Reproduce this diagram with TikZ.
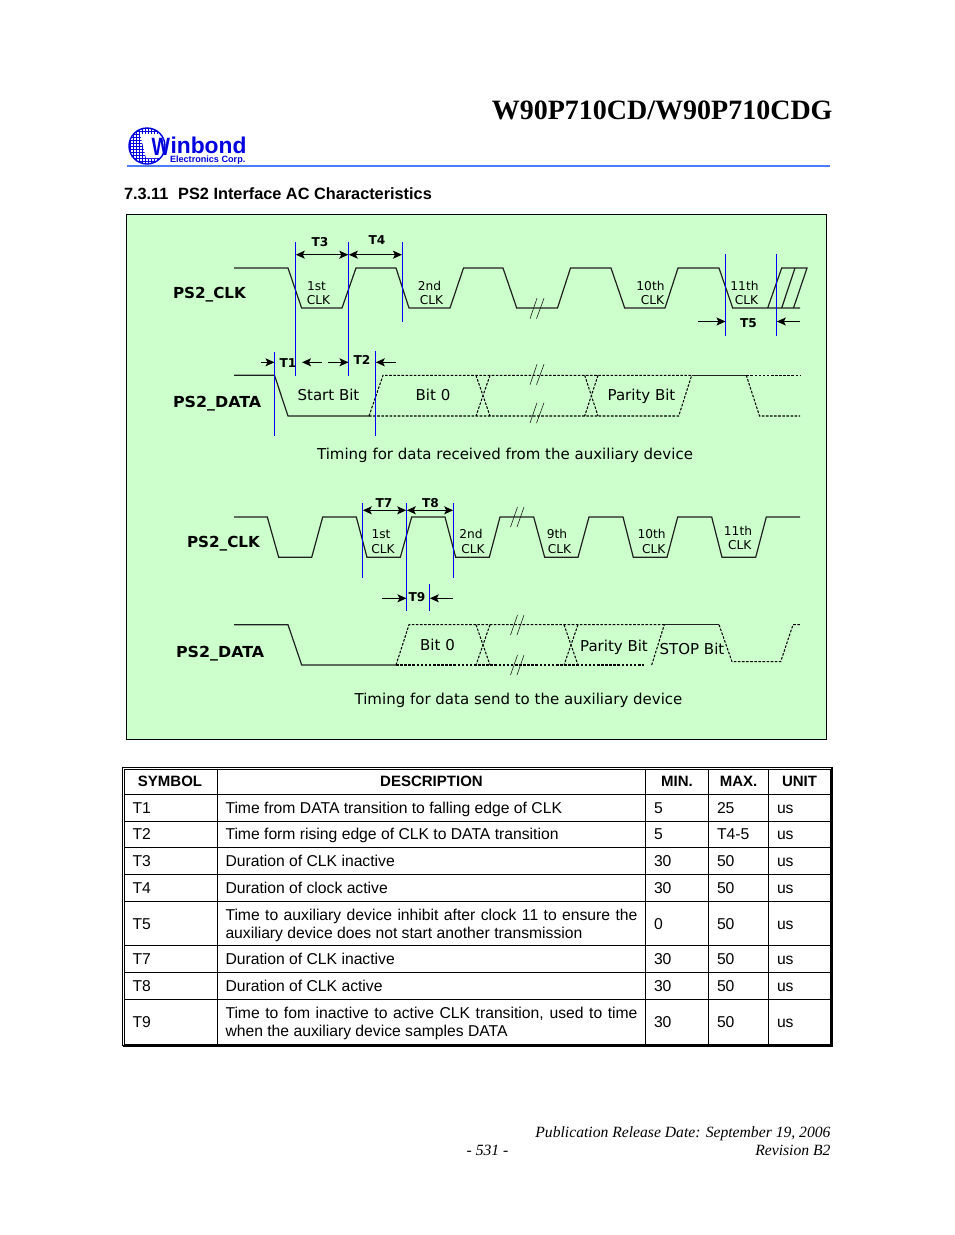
\documentclass[tikz,border=0pt]{standalone}
\usepackage{fontspec}
\setmainfont{Liberation Sans}
\newfontfamily\verd{DejaVu Sans}
\newfontfamily\tms{Liberation Serif}
\usetikzlibrary{arrows.meta}
\definecolor{panel}{HTML}{CCFFCC}
\definecolor{rulebl}{HTML}{4D7CFF}
\definecolor{wbblue}{HTML}{0000E0}
\definecolor{sig}{HTML}{202020}
\tikzset{
 every node/.style={inner sep=0pt,outer sep=0pt},
 solidsig/.style={draw=sig,line width=1.2pt,line join=miter},
 dashsig/.style={draw=black,line width=1.05pt,dash pattern=on 2.6pt off 1.5pt},
 breakmark/.style={draw=sig,line width=0.6pt},
 bluemark/.style={draw=blue,line width=1.2pt},
 dim/.style={draw=black,line width=1pt,-{Stealth[length=9pt,width=8pt,inset=2pt]}},
 dimboth/.style={draw=black,line width=1pt,{Stealth[length=9pt,width=8pt,inset=2pt]}-{Stealth[length=9pt,width=8pt,inset=2pt]}},
 signame/.style={font=\verd\bfseries\fontsize{15.2}{18}\selectfont,text=black},
 timelabel/.style={font=\verd\bfseries\fontsize{12.2}{14}\selectfont,text=black},
 small/.style={font=\verd\fontsize{12.2}{14}\selectfont,text=black},
 bitname/.style={font=\verd\fontsize{15}{18}\selectfont,text=black},
 caption/.style={font=\verd\fontsize{15}{18}\selectfont,text=black},
 cell/.style={font=\fontsize{15.7}{18}\selectfont,text=black,anchor=base west},
 head/.style={font=\bfseries\fontsize{15}{18}\selectfont,text=black},
 wrapcell/.style={font=\fontsize{15.7}{18}\selectfont,text=black,anchor=west,text width=412pt,align=justify},
 foot/.style={font=\tms\itshape\fontsize{15.65}{18}\selectfont,text=black},
 tline/.style={draw=black,line width=1pt},
}
\begin{document}
\begin{tikzpicture}[x=1pt,y=-1pt]
\useasboundingbox (0,0) rectangle (954,1235);
\fill[white] (0,0) rectangle (954,1235);
% header
\node[anchor=east,font=\tms\bfseries\fontsize{28}{32}\selectfont] (title) at (832.5,110) {W90P710CD/W90P710CDG};
\draw[rulebl,line width=1.6pt] (127,165.7) -- (830,165.7);
\begin{scope}
\clip (147,146) circle (18);
\foreach \v in {130,133,...,166} {\draw[wbblue,line width=0.8pt] (\v,126) -- (\v,166);}
\foreach \v in {128,131,...,166} {\draw[wbblue,line width=0.8pt] (127,\v) -- (167,\v);}
\fill[white] (140,134) -- (168,134) -- (168,158) -- (146,158) -- cycle;
\end{scope}
\draw[wbblue,line width=1.4pt] (147,146) circle (18);
\node[anchor=base west,font=\bfseries\fontsize{25}{26}\selectfont,text=wbblue,xscale=0.78] (logoW) at (151.5,155) {W};
\node[anchor=base west,font=\bfseries\fontsize{22.8}{26}\selectfont,text=wbblue] (logoName) at (170.5,153.5) {inbond};
\node[anchor=base west,font=\bfseries\fontsize{9.1}{10}\selectfont,text=wbblue] (logoCorp) at (170,162.5) {Electronics Corp.};
\node[anchor=base west,font=\bfseries\fontsize{16.3}{18}\selectfont] (section) at (124,199.5) {7.3.11\hspace{0.6em}PS2 Interface AC Characteristics};
% panel
\draw[fill=panel,draw=black,line width=1pt] (126.5,214.5) rectangle (826.5,739.5);
% upper timing
\draw[solidsig] (234,268) -- (288,268) -- (301.6,308) -- (342,308) -- (356,268) -- (396,268) -- (409,308) -- (450,308) -- (463.5,268) -- (503,268) -- (516.7,308) -- (557.5,308) -- (570.5,268) -- (611,268) -- (624.7,308) -- (665,308) -- (678,268) -- (719,268) -- (732.7,308) -- (800,308);
\draw[solidsig] (767.7,308) -- (781.7,268) -- (807,268) -- (793.5,308);
\draw[solidsig] (781.7,308) -- (795,268);
\foreach \d in {298.3,364.3,402.7} {
  \draw[breakmark] (530,\d+20.4) -- (537,\d);
  \draw[breakmark] (536.5,\d+20.4) -- (544,\d);
}
\draw[solidsig] (234,375.3) -- (274.5,375.3) -- (288,416) -- (369,416);
\draw[dashsig] (369,416) -- (383,375.3) -- (691.7,375.3);
\draw[dashsig] (369,416) -- (678.7,416) -- (691.7,375.3);
\draw[dashsig] (476,375.3) -- (490,416) (490,375.3) -- (476,416);
\draw[dashsig] (584.7,375.3) -- (598,416) (598,375.3) -- (584.7,416);
\draw[solidsig] (691.7,375.3) -- (746.3,375.3);
\draw[dashsig] (746.3,375.3) -- (800,375.3);
\draw[dashsig] (746.3,375.3) -- (759.5,416) -- (800,416);
\draw[bluemark] (295.5,242) -- (295.5,376);
\draw[bluemark] (348.5,242) -- (348.5,376);
\draw[bluemark] (402.3,242) -- (402.3,322);
\draw[bluemark] (274.5,352) -- (274.5,436);
\draw[bluemark] (375.5,350.5) -- (375.5,436);
\draw[bluemark] (725.5,254) -- (725.5,335.5);
\draw[bluemark] (776.5,254) -- (776.5,335.5);
\draw[dimboth] (295.8,254.7) -- (348.3,254.7);
\draw[dimboth] (348.8,254.7) -- (402,254.7);
\draw[dim] (261,362.3) -- (274.5,362.3);
\draw[dim] (322,362.3) -- (302,362.3);
\draw[dim] (328,362.3) -- (348.5,362.3);
\draw[dim] (396,362.3) -- (375.8,362.3);
\draw[dim] (698,321.5) -- (725.5,321.5);
\draw[dim] (800,321.5) -- (776.8,321.5);
\node[timelabel] (lT3) at (320,242) {T3};
\node[timelabel] (lT4) at (377,240) {T4};
\node[timelabel] (lT1) at (288,363) {T1};
\node[timelabel] (lT2) at (362,360) {T2};
\node[timelabel] (lT5) at (748.5,323) {T5};
\node[signame,anchor=west] (clkA) at (173,295) {PS2\_CLK};
\node[signame,anchor=west,xscale=1.045] (datA) at (173,404) {PS2\_DATA};
\foreach \n/\x/\t in {a1/316.5/1st,a2/429.5/2nd,a3/650.5/10th,a4/744.5/11th} {\node[small] (\n) at (\x,286) {\t};}
\foreach \n/\x in {c1/318.5,c2/431.5,c3/652.5,c4/746.5} {\node[small] (\n) at (\x,300) {CLK};}
\node[bitname] (bStart) at (328.5,395) {Start Bit};
\node[bitname] (bZeroA) at (433,395) {Bit 0};
\node[bitname] (bParA) at (641.5,396) {Parity Bit};
\node[caption] (capA) at (505,455) {Timing for data received from the auxiliary device};
% lower timing
\draw[solidsig] (234,517) -- (267.3,517) -- (278.7,557.3) -- (311.7,557.3) -- (322.7,517) -- (356.3,517) -- (367,557.3) -- (400.3,557.3) -- (411.7,517) -- (445,517) -- (455.7,557.3) -- (489.3,557.3) -- (500,517) -- (533.7,517) -- (544.7,557.3) -- (578,557.3) -- (589,517) -- (623,517) -- (633.3,557.3) -- (667,557.3) -- (677.7,517) -- (711.7,517) -- (722,557.3) -- (755.7,557.3) -- (766.3,517) -- (800,517);
\foreach \d in {507,615,655} {
  \draw[breakmark] (510.5,\d+20) -- (517.5,\d);
  \draw[breakmark] (517,\d+20) -- (524,\d);
}
\draw[solidsig] (234,624.7) -- (288,624.7) -- (301.7,665) -- (396,665);
\draw[dashsig] (396,665) -- (409,624.7) -- (664.3,624.7);
\draw[dashsig] (396,665) -- (644,665);
\draw[dashsig] (476,624.7) -- (490,665) (490,624.7) -- (476,665);
\draw[dashsig] (564,624.7) -- (578,665) (578,624.7) -- (564,665);
\draw[dashsig] (651.7,665) -- (664.3,624.7);
\draw[solidsig] (664.3,624.7) -- (719,624.7);
\draw[dashsig] (719,624.7) -- (732,661.7) -- (780.7,661.7) -- (793,624.7) -- (800,624.7);
\draw[bluemark] (362.5,503.3) -- (362.5,577.7);
\draw[bluemark] (406.5,503.3) -- (406.5,611);
\draw[bluemark] (453.5,503.3) -- (453.5,577.7);
\draw[bluemark] (429.5,584.3) -- (429.5,611);
\draw[dimboth] (362.8,510.3) -- (406.2,510.3);
\draw[dimboth] (406.8,510.3) -- (453.2,510.3);
\draw[dim] (382,598.3) -- (406.5,598.3);
\draw[dim] (453,598.3) -- (429.8,598.3);
\node[timelabel] (lT7) at (384,503) {T7};
\node[timelabel] (lT8) at (430.5,503) {T8};
\node[timelabel] (lT9) at (417,597) {T9};
\node[signame,anchor=west] (clkB) at (187,544) {PS2\_CLK};
\node[signame,anchor=west,xscale=1.045] (datB) at (176,654) {PS2\_DATA};
\foreach \n/\x/\y/\t in {d1/381/534/1st,d2/471/534/2nd,d3/557/534/9th,d4/651.7/534/10th,d5/738/531/11th,e1/383/549/CLK,e2/473/549/CLK,e3/559.5/549/CLK,e4/653.7/549/CLK,e5/739.7/545/CLK} {\node[small] (\n) at (\x,\y) {\t};}
\node[bitname] (bZeroB) at (437.5,645) {Bit 0};
\node[bitname] (bParB) at (614,647) {Parity Bit};
\node[bitname] (bStop) at (692,649) {STOP Bit};
\node[caption] (capB) at (518.5,700) {Timing for data send to the auxiliary device};
% table
\draw[black,line width=1pt] (122.5,767) rectangle (831.5,1045.5);
\draw[black,line width=1pt] (124.3,769) rectangle (830.3,1044);
\draw[black,line width=0.6pt] (122.5,1045.8) -- (831.8,1045.8) -- (831.8,767);
\foreach \y in {794.5,821,847.5,874.5,901.5,945.5,972.5,999.5} {\draw[tline] (124.3,\y) -- (830.3,\y);}
\foreach \x in {217.5,645.5,708.5,768.5} {\draw[tline] (\x,769) -- (\x,1044);}
\node[head] (hSym) at (170,781.5) {SYMBOL};
\node[head] (hDes) at (431.5,781.5) {DESCRIPTION};
\node[head] (hMin) at (677,781.5) {MIN.};
\node[head] (hMax) at (738.5,781.5) {MAX.};
\node[head] (hUni) at (799.5,781.5) {UNIT};
\foreach \n/\y/\s/\d/\a/\b in {
 r1/813/T1/Time from DATA transition to falling edge of CLK/5/25,
 r2/839.5/T2/Time form rising edge of CLK to DATA transition/5/T4-5,
 r3/866.5/T3/Duration of CLK inactive/30/50,
 r4/893.5/T4/Duration of clock active/30/50,
 r7/964.5/T7/Duration of CLK inactive/30/50,
 r8/991.5/T8/Duration of CLK active/30/50} {
  \node[cell] (\n s) at (132.5,\y) {\s};
  \node[cell] (\n d) at (225.5,\y) {\d};
  \node[cell] (\n a) at (654,\y) {\a};
  \node[cell] (\n b) at (717,\y) {\b};
  \node[cell] (\n u) at (777,\y) {us};
}
\foreach \n/\y/\s in {r5/929.5/T5,r9/1027.5/T9} {
  \node[cell] (\n s) at (132.5,\y) {\s};
  \node[cell] (\n u) at (777,\y) {us};
  \node[cell] (\n b) at (717,\y) {50};
}
\node[cell] (r5a) at (654,929.5) {0};
\node[cell] (r9a) at (654,1027.5) {30};
\node[wrapcell] (r5d) at (225.5,925) {Time to auxiliary device inhibit after clock 11 to ensure the auxiliary device does not start another transmission};
\node[wrapcell] (r9d) at (225.5,1023) {Time to fom inactive to active CLK transition, used to time when the auxiliary device samples DATA};
% footer
\node[foot,anchor=base east] (fPub) at (830.5,1137) {Publication Release Date: September 19, 2006};
\node[foot,anchor=base] (fPage) at (487.5,1155) {- 531 -};
\node[foot,anchor=base east] (fRev) at (830.5,1155) {Revision B2};
\end{tikzpicture}
\end{document}
